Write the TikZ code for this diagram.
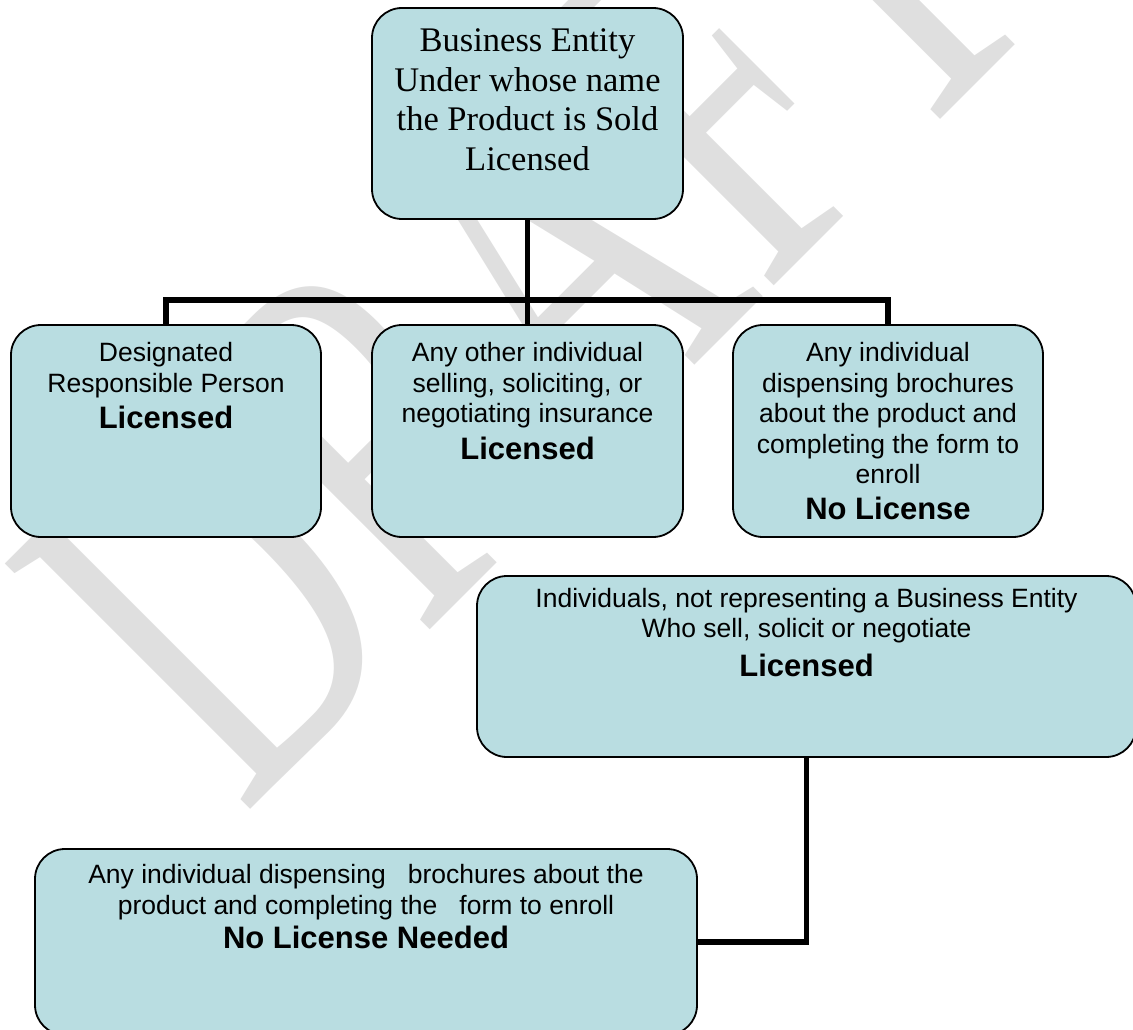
\documentclass[tikz,border=0pt]{standalone}
\usepackage{fontspec}
\setmainfont{Liberation Serif}
\setsansfont{Liberation Sans}
\usepackage{tikz}
\usetikzlibrary{positioning}
\usepackage{xcolor}
\definecolor{boxblue}{RGB}{185,221,225}
\definecolor{markgray}{RGB}{223,223,223}
\newcommand{\verdict}[1]{{\bfseries\fontsize{31}{36}\selectfont #1}}

\begin{document}
\begin{tikzpicture}[x=1pt, y=-1pt,
    card/.style={draw=black, line width=1.8, fill=boxblue, rounded corners=30, inner sep=0},
    wire/.style={line width=5.5, black},
    serifbody/.style={font=\rmfamily\fontsize{34.5}{39.7}\selectfont, align=center, inner sep=0},
    sansbody/.style={font=\sffamily\fontsize{26.5}{30.5}\selectfont, align=center, inner sep=0}]
  \useasboundingbox (0,0) rectangle (1133,1030);

  % Watermark
  \node[anchor=base west, inner sep=0, text=markgray, rotate=45, xscale=0.66,
        font=\rmfamily\fontsize{530}{530}\selectfont] (mark) at (243,817) {DRAFT};

  % Business entity
  \node[card, minimum width=311, minimum height=211] (entity) at (527.5,113.5) {};
  \node[serifbody, below=21.4pt of entity.north] (entityT)
    {Business Entity\\Under whose name\\the Product is Sold\\Licensed};

  % People acting for the entity
  \node[card, minimum width=310, minimum height=212] (drp) at (166,431) {};
  \node[card, minimum width=311, minimum height=212] (seller) at (527.5,431) {};
  \node[card, minimum width=310, minimum height=212] (brochure) at (888,431) {};
  \node[sansbody, below=18pt of drp.north] (drpT)
    {Designated\\Responsible Person\\[6pt]\verdict{Licensed}};
  \node[sansbody, below=18pt of seller.north] (sellerT)
    {Any other individual\\selling, soliciting, or\\negotiating insurance\\[6pt]\verdict{Licensed}};
  \node[sansbody, below=18pt of brochure.north] (brochureT)
    {Any individual\\dispensing brochures\\about the product and\\completing the form to\\enroll\\[5pt]\verdict{No License}};

  % Individuals on their own
  \node[card, minimum width=659, minimum height=181] (indiv) at (806.5,666.5) {};
  \node[sansbody, below=12.6pt of indiv.north] (indivT)
    {Individuals, not representing a Business Entity\\Who sell, solicit or negotiate\\[8pt]\verdict{Licensed}};
  \node[card, minimum width=662, minimum height=186] (helper) at (366,942) {};
  \node[sansbody, below=16pt of helper.north] (helperT)
    {Any individual dispensing~~~brochures about the\\product and completing the~~~form to enroll\\[4pt]\verdict{No License Needed}};

  % Connectors
  \coordinate (hub) at (527.5,300);
  \draw[wire] (entity.south) -- (hub);
  \draw[wire] (drp.north) |- (hub) -| (brochure.north);
  \draw[wire] (hub) -- (seller.north);
  \draw[wire] (indiv.south) |- (helper.east);
\end{tikzpicture}
\end{document}
